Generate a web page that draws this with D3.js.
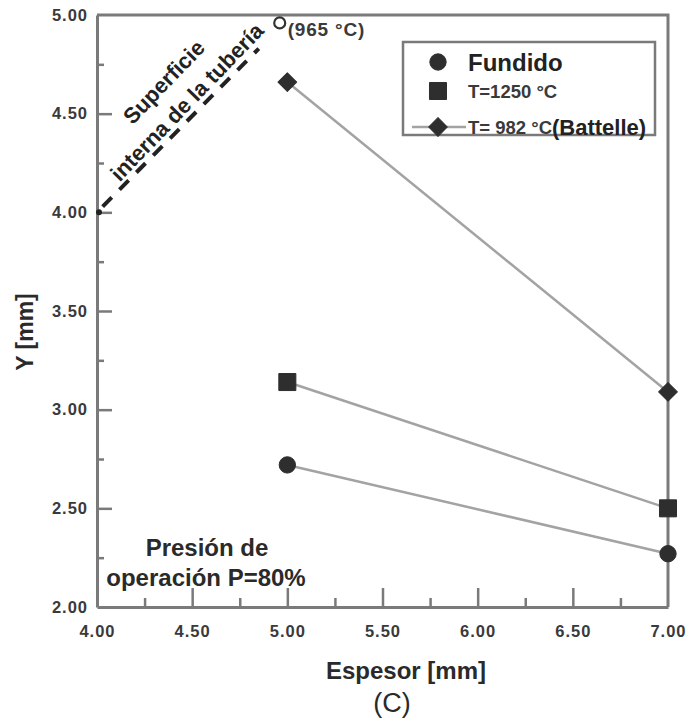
<!DOCTYPE html>
<html>
<head>
<meta charset="utf-8">
<script src="https://cdn.jsdelivr.net/npm/d3@7"></script>
<style>
  body { margin: 0; background: #fff; }
  text { font-family: "Liberation Sans", Arial, sans-serif; }
</style>
</head>
<body>
<div id="chart"></div>
<script>
// data
var espesor = [5.00, 7.00];
var fundido = [2.72, 2.27];
var t1250 = [3.14, 2.50];
var battelle = [4.66, 3.09];
var seriesNames = ["Fundido", "T=1250 °C", "T= 982 °C"];
var superficieX = [4.00, 4.85];
var superficieY = [4.00, 4.83];
var punto965 = [4.96, 4.96];
var xTicks = [4.00, 4.50, 5.00, 5.50, 6.00, 6.50, 7.00];
var xMinor = [4.25, 4.75, 5.25, 5.75, 6.25, 6.75];
var yTicks = [2.00, 2.50, 3.00, 3.50, 4.00, 4.50, 5.00];
var yMinor = [2.25, 2.75, 3.25, 3.75, 4.25, 4.75];

//Width and height
var w = 689;
var h = 724;
var plotL = 97, plotR = 668, plotT = 15, plotB = 607;

var svg = d3.select("#chart")
  .append("svg")
  .attr("width", w)
  .attr("height", h);

var x = d3.scaleLinear().domain([4, 7]).range([plotL, plotR]);
var y = d3.scaleLinear().domain([2, 5]).range([plotB, plotT]);
var fmt = d3.format(".2f");

var axisColor = "#7a7a7a";
var lineColor = "#a3a3a3";
var markColor = "#2e2e2e";

// frame top / right
svg.append("path")
  .attr("d", "M" + plotL + "," + plotT + "H" + plotR + "V" + plotB)
  .attr("fill", "none")
  .attr("stroke", axisColor)
  .attr("stroke-width", 3);

// x axis
var gx = svg.append("g")
  .attr("transform", "translate(0," + plotB + ")")
  .call(d3.axisBottom(x).tickValues(xTicks).tickFormat(fmt)
    .tickSizeInner(-19).tickSizeOuter(0).tickPadding(18));
svg.append("g")
  .attr("transform", "translate(0," + plotB + ")")
  .call(d3.axisBottom(x).tickValues(xMinor).tickFormat("")
    .tickSizeInner(-9).tickSizeOuter(0))
  .select(".domain").remove();

// y axis
var gy = svg.append("g")
  .attr("transform", "translate(" + plotL + ",0)")
  .call(d3.axisLeft(y).tickValues(yTicks).tickFormat(fmt)
    .tickSizeInner(-15).tickSizeOuter(0).tickPadding(9));
svg.append("g")
  .attr("transform", "translate(" + plotL + ",0)")
  .call(d3.axisLeft(y).tickValues(yMinor).tickFormat("")
    .tickSizeInner(-7).tickSizeOuter(0))
  .select(".domain").remove();

svg.selectAll(".domain").attr("stroke", axisColor).attr("stroke-width", 3);
svg.selectAll(".tick line").attr("stroke", axisColor).attr("stroke-width", 2.5);
svg.selectAll(".tick text")
  .attr("fill", "#3a3a3a")
  .style("font-size", "16.5px")
  .style("font-weight", "bold")
  .style("letter-spacing", "1px");
gx.selectAll(".tick line").filter(function(d) { return d === 4 || d === 7; }).remove();
gy.selectAll(".tick line").filter(function(d) { return d === 2 || d === 5; }).remove();

// series lines
var series = [fundido, t1250, battelle];
var line = d3.line()
  .x(function(d, i) { return x(espesor[i]); })
  .y(function(d) { return y(d); });

svg.selectAll(".serie")
  .data(series)
  .enter()
  .append("path")
  .attr("class", "serie")
  .attr("d", line)
  .attr("fill", "none")
  .attr("stroke", lineColor)
  .attr("stroke-width", 2.5);

function marker(k) {
  if (k === 0) return d3.symbol().type(d3.symbolCircle).size(210)();
  if (k === 1) return d3.symbol().type(d3.symbolSquare).size(290)();
  return d3.symbol().type(d3.symbolSquare).size(175)();
}

series.forEach(function(s, k) {
  svg.selectAll(".m" + k)
    .data(s)
    .enter()
    .append("path")
    .attr("d", marker(k))
    .attr("transform", function(d, i) {
      return "translate(" + x(espesor[i]) + "," + y(d) + ")" + (k === 2 ? " rotate(45)" : "");
    })
    .attr("fill", markColor)
    .attr("stroke", markColor)
    .attr("stroke-width", 1)
    .attr("stroke-linejoin", "round");
});

// superficie interna (dashed)
svg.append("path")
  .attr("d", d3.line()(superficieX.map(function(d, i) { return [x(d), y(superficieY[i])]; })))
  .attr("stroke", "#222")
  .attr("stroke-width", 4)
  .attr("stroke-dasharray", "13,11")
  .attr("stroke-dashoffset", -8);
svg.append("circle")
  .attr("cx", x(superficieX[0]) + 2)
  .attr("cy", y(superficieY[0]))
  .attr("r", 3)
  .attr("fill", "#222");

svg.append("circle")
  .attr("cx", x(punto965[0]))
  .attr("cy", y(punto965[1]))
  .attr("r", 5.5)
  .attr("fill", "#fff")
  .attr("stroke", "#333")
  .attr("stroke-width", 2.2);
svg.append("text")
  .attr("x", x(punto965[0]) + 8)
  .attr("y", y(punto965[1]) + 13)
  .attr("fill", "#3a3a3a")
  .style("font-size", "19px")
  .style("font-weight", "bold")
  .style("letter-spacing", "0.8px")
  .text("(965 °C)");

svg.append("text")
  .attr("transform", "translate(164,82) rotate(-46)")
  .attr("text-anchor", "middle")
  .attr("dominant-baseline", "central")
  .attr("fill", "#222")
  .style("font-size", "22px")
  .style("font-weight", "bold")
  .text("Superficie");
svg.append("text")
  .attr("transform", "translate(187,102) rotate(-46)")
  .attr("text-anchor", "middle")
  .attr("dominant-baseline", "central")
  .attr("fill", "#222")
  .style("font-size", "22px")
  .style("font-weight", "bold")
  .text("interna de la tubería");

// legend
var lg = svg.append("g");
lg.append("rect")
  .attr("x", 403).attr("y", 42)
  .attr("width", 252).attr("height", 93)
  .attr("fill", "#fff")
  .attr("stroke", axisColor)
  .attr("stroke-width", 2.5);
var legY = [62, 91, 127];
lg.append("line")
  .attr("x1", 412).attr("x2", 466)
  .attr("y1", legY[2]).attr("y2", legY[2])
  .attr("stroke", lineColor).attr("stroke-width", 2.5);
[0, 1, 2].forEach(function(k) {
  lg.append("path")
    .attr("d", marker(k))
    .attr("transform", "translate(438," + legY[k] + ")" + (k === 2 ? " rotate(45)" : ""))
    .attr("fill", markColor)
    .attr("stroke", markColor)
    .attr("stroke-linejoin", "round");
});
lg.append("text")
  .attr("x", 468).attr("y", legY[0])
  .attr("dominant-baseline", "central")
  .attr("fill", "#222")
  .style("font-size", "24px").style("font-weight", "bold")
  .text(seriesNames[0]);
lg.append("text")
  .attr("x", 468).attr("y", legY[1])
  .attr("dominant-baseline", "central")
  .attr("fill", "#3a3a3a")
  .style("font-size", "18.5px").style("font-weight", "bold")
  .text(seriesNames[1]);
var t3 = lg.append("text")
  .attr("x", 468).attr("y", legY[2])
  .attr("dominant-baseline", "central")
  .attr("fill", "#3a3a3a")
  .style("font-size", "18.5px").style("font-weight", "bold");
t3.append("tspan").text(seriesNames[2]);
t3.append("tspan").attr("fill", "#222").style("font-size", "22px").text("(Battelle)");

// annotations and titles
svg.append("text")
  .attr("x", 207).attr("y", 547)
  .attr("text-anchor", "middle").attr("dominant-baseline", "central")
  .attr("fill", "#2a2a2a")
  .style("font-size", "24px").style("font-weight", "bold")
  .text("Presión de");
svg.append("text")
  .attr("x", 206).attr("y", 577)
  .attr("text-anchor", "middle").attr("dominant-baseline", "central")
  .attr("fill", "#2a2a2a")
  .style("font-size", "24px").style("font-weight", "bold")
  .text("operación P=80%");

svg.append("text")
  .attr("x", 406).attr("y", 670)
  .attr("text-anchor", "middle").attr("dominant-baseline", "central")
  .attr("fill", "#2a2a2a")
  .style("font-size", "24px").style("font-weight", "bold")
  .text("Espesor [mm]");
svg.append("text")
  .attr("x", 392).attr("y", 703)
  .attr("text-anchor", "middle").attr("dominant-baseline", "central")
  .attr("fill", "#2a2a2a")
  .style("font-size", "27px")
  .text("(C)");
svg.append("text")
  .attr("transform", "translate(25,332) rotate(-90)")
  .attr("text-anchor", "middle").attr("dominant-baseline", "central")
  .attr("fill", "#2a2a2a")
  .style("font-size", "23px").style("font-weight", "bold")
  .text("Y [mm]");
</script>
</body>
</html>
